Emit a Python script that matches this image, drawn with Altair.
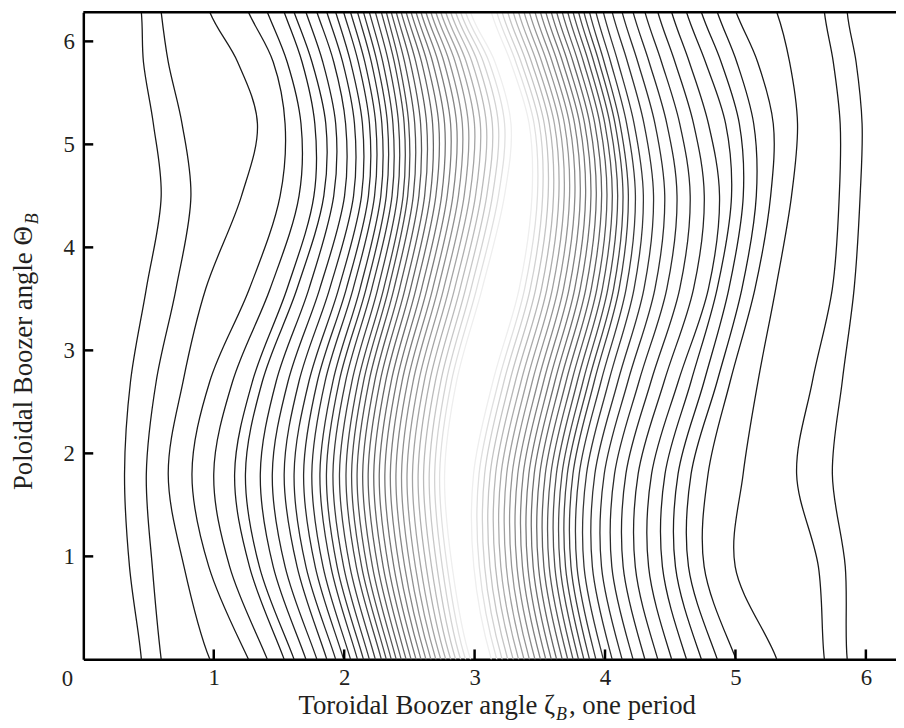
import altair as alt
import pandas as pd

TWO_PI = 6.2832
THETA_KNOTS = [0.0, 0.9, 1.8, 2.7, 3.6, 4.5, 5.2, 5.8]

# zeta of each contour at the theta knots, left family (outer -> inner)
LEFT_GROUP = [
    [0.445, 0.354, 0.316, 0.362, 0.483, 0.597, 0.537, 0.461],
    [0.597, 0.529, 0.483, 0.559, 0.711, 0.825, 0.757, 0.651],
    [0.970, 0.772, 0.651, 0.765, 0.939, 1.213, 1.335, 1.183],
    [1.266, 0.962, 0.833, 0.970, 1.274, 1.509, 1.547, 1.456],
    [1.411, 1.122, 1.000, 1.145, 1.433, 1.654, 1.669, 1.563],
    [1.540, 1.274, 1.160, 1.297, 1.563, 1.768, 1.775, 1.677],
    [1.616, 1.350, 1.243, 1.373, 1.639, 1.844, 1.859, 1.753],
    [1.707, 1.456, 1.357, 1.479, 1.730, 1.920, 1.935, 1.836],
    [1.791, 1.547, 1.449, 1.570, 1.813, 2.003, 2.011, 1.920],
    [1.867, 1.639, 1.540, 1.654, 1.889, 2.072, 2.079, 1.988],
    [1.935, 1.707, 1.616, 1.730, 1.958, 2.133, 2.140, 2.049],
    [1.996, 1.778, 1.689, 1.795, 2.017, 2.186, 2.194, 2.108],
    [2.049, 1.838, 1.752, 1.854, 2.069, 2.233, 2.242, 2.158],
    [2.102, 1.898, 1.814, 1.914, 2.122, 2.281, 2.289, 2.208],
    [2.148, 1.946, 1.864, 1.962, 2.168, 2.323, 2.332, 2.252],
    [2.193, 1.996, 1.914, 2.011, 2.212, 2.367, 2.374, 2.296],
    [2.239, 2.044, 1.964, 2.060, 2.258, 2.409, 2.417, 2.340],
    [2.285, 2.093, 2.014, 2.107, 2.303, 2.452, 2.460, 2.384],
    [2.323, 2.134, 2.057, 2.149, 2.341, 2.487, 2.495, 2.420],
    [2.361, 2.175, 2.099, 2.191, 2.382, 2.530, 2.541, 2.463],
    [2.399, 2.217, 2.142, 2.234, 2.425, 2.573, 2.586, 2.506],
    [2.437, 2.258, 2.184, 2.276, 2.467, 2.617, 2.632, 2.549],
    [2.475, 2.299, 2.227, 2.318, 2.509, 2.660, 2.678, 2.593],
    [2.513, 2.340, 2.269, 2.361, 2.551, 2.703, 2.725, 2.635],
    [2.551, 2.381, 2.312, 2.403, 2.594, 2.747, 2.770, 2.678],
    [2.589, 2.423, 2.354, 2.444, 2.636, 2.790, 2.816, 2.721],
    [2.627, 2.464, 2.397, 2.487, 2.679, 2.834, 2.862, 2.765],
    [2.665, 2.505, 2.440, 2.529, 2.720, 2.876, 2.906, 2.807],
    [2.703, 2.546, 2.482, 2.572, 2.763, 2.920, 2.952, 2.851],
    [2.741, 2.587, 2.524, 2.614, 2.804, 2.963, 2.999, 2.894],
    [2.779, 2.629, 2.567, 2.656, 2.847, 3.007, 3.044, 2.936],
    [2.817, 2.670, 2.609, 2.699, 2.889, 3.050, 3.090, 2.980],
    [2.855, 2.711, 2.652, 2.741, 2.931, 3.093, 3.136, 3.023],
    [2.893, 2.752, 2.694, 2.783, 2.973, 3.137, 3.182, 3.067],
    [2.931, 2.790, 2.732, 2.823, 3.016, 3.183, 3.230, 3.111],
    [2.969, 2.828, 2.770, 2.862, 3.058, 3.229, 3.279, 3.156],
]

# right family (inner -> outer)
RIGHT_GROUP = [
    [3.128, 2.994, 2.992, 3.141, 3.342, 3.440, 3.418, 3.276],
    [3.170, 3.036, 3.034, 3.184, 3.384, 3.482, 3.456, 3.316],
    [3.211, 3.077, 3.077, 3.226, 3.427, 3.522, 3.496, 3.356],
    [3.254, 3.118, 3.119, 3.270, 3.469, 3.564, 3.534, 3.396],
    [3.296, 3.160, 3.161, 3.313, 3.513, 3.605, 3.573, 3.436],
    [3.337, 3.201, 3.203, 3.357, 3.555, 3.646, 3.612, 3.475],
    [3.379, 3.243, 3.246, 3.400, 3.597, 3.687, 3.650, 3.515],
    [3.420, 3.284, 3.288, 3.443, 3.640, 3.728, 3.689, 3.555],
    [3.463, 3.325, 3.331, 3.487, 3.682, 3.769, 3.728, 3.595],
    [3.505, 3.367, 3.373, 3.530, 3.725, 3.810, 3.767, 3.635],
    [3.546, 3.408, 3.416, 3.573, 3.768, 3.851, 3.806, 3.675],
    [3.588, 3.449, 3.457, 3.616, 3.810, 3.892, 3.844, 3.714],
    [3.629, 3.490, 3.500, 3.658, 3.853, 3.933, 3.883, 3.755],
    [3.672, 3.531, 3.542, 3.702, 3.895, 3.974, 3.922, 3.794],
    [3.714, 3.572, 3.585, 3.745, 3.938, 4.015, 3.961, 3.835],
    [3.755, 3.615, 3.627, 3.788, 3.980, 4.056, 3.999, 3.874],
    [3.797, 3.656, 3.670, 3.832, 4.022, 4.097, 4.038, 3.914],
    [3.838, 3.697, 3.711, 3.875, 4.066, 4.138, 4.077, 3.954],
    [3.881, 3.739, 3.754, 3.918, 4.108, 4.179, 4.115, 3.993],
    [3.930, 3.785, 3.802, 3.970, 4.162, 4.233, 4.166, 4.043],
    [3.987, 3.839, 3.858, 4.029, 4.223, 4.294, 4.223, 4.099],
    [4.055, 3.903, 3.922, 4.099, 4.299, 4.372, 4.299, 4.172],
    [4.131, 3.973, 3.994, 4.176, 4.383, 4.458, 4.383, 4.251],
    [4.215, 4.052, 4.073, 4.261, 4.474, 4.552, 4.474, 4.338],
    [4.306, 4.139, 4.160, 4.353, 4.573, 4.653, 4.573, 4.433],
    [4.405, 4.232, 4.254, 4.454, 4.679, 4.761, 4.679, 4.536],
    [4.511, 4.334, 4.357, 4.562, 4.793, 4.878, 4.793, 4.646],
    [4.625, 4.440, 4.460, 4.660, 4.860, 4.970, 4.925, 4.770],
    [4.739, 4.540, 4.560, 4.760, 4.950, 5.060, 5.030, 4.890],
    [4.861, 4.640, 4.660, 4.860, 5.050, 5.160, 5.140, 5.010],
    [5.005, 4.760, 4.790, 4.960, 5.150, 5.270, 5.290, 5.170],
    [5.317, 4.998, 5.059, 5.173, 5.309, 5.430, 5.476, 5.415],
    [5.682, 5.636, 5.469, 5.590, 5.743, 5.796, 5.803, 5.750],
    [5.857, 5.842, 5.743, 5.819, 5.910, 5.956, 5.971, 5.925],
]

TICK_VALUES = [1, 2, 3, 4, 5, 6]
X_DOMAIN = [0, 6.231]
Y_DOMAIN = [0, TWO_PI]

rows = []


def add_line(name, zetas, shade):
    pts = [(THETA_KNOTS[-1] - TWO_PI, zetas[-1])]
    pts += list(zip(THETA_KNOTS, zetas))
    pts += [(TWO_PI, zetas[0]), (TWO_PI + THETA_KNOTS[1], zetas[1])]
    for i, (t, z) in enumerate(pts):
        rows.append({"line": name, "ord": i, "theta": t, "zeta": z, "shade": shade})


nL = len(LEFT_GROUP)
for i, z in enumerate(LEFT_GROUP):
    add_line(f"L{i:02d}", z, i / (nL - 1))
nR = len(RIGHT_GROUP)
for j, z in enumerate(RIGHT_GROUP):
    add_line(f"R{j:02d}", z, 1 - j / (nR - 1))

df = pd.DataFrame(rows)

W, H = 820, 653
FONT = "Liberation Serif"
INK = "#231f20"

xscale = alt.Scale(domain=X_DOMAIN, nice=False, zero=False)
yscale = alt.Scale(domain=Y_DOMAIN, nice=False, zero=False)

lines = alt.Chart(df).mark_line(
    interpolate="catmull-rom", strokeWidth=1.3, clip=True
).encode(
    x=alt.X("zeta:Q", scale=xscale, axis=alt.Axis(
        values=TICK_VALUES, format="d", ticks=False, grid=False, title=None,
        labelFont=FONT, labelFontSize=23, labelColor=INK, labelPadding=7,
        domainColor="black", domainWidth=2.5)),
    y=alt.Y("theta:Q", scale=yscale, axis=alt.Axis(
        values=TICK_VALUES, format="d", ticks=False, grid=False, title=None,
        labelFont=FONT, labelFontSize=23, labelColor=INK, labelPadding=9,
        domainColor="black", domainWidth=2.5)),
    detail="line:N",
    order="ord:Q",
    color=alt.Color("shade:Q", legend=None,
                    scale=alt.Scale(type="pow", exponent=2, domain=[0, 1],
                                    range=["#1a1a1a", "#eeeeee"])),
)

ticks_df = pd.DataFrame({"v": TICK_VALUES})
xticks = alt.Chart(ticks_df).mark_rule(color="black", strokeWidth=2.5).encode(
    x=alt.X("v:Q", scale=xscale), y=alt.value(H), y2=alt.value(H - 10))
yticks = alt.Chart(ticks_df).mark_rule(color="black", strokeWidth=2.5).encode(
    y=alt.Y("v:Q", scale=yscale), x=alt.value(0), x2=alt.value(10))

top = alt.Chart(pd.DataFrame({"y": [TWO_PI]})).mark_rule(
    color="black", strokeWidth=2.5).encode(
    y=alt.Y("y:Q", scale=yscale), x=alt.value(0), x2=alt.value(W))


def label(text, x, y, size=27, align="left", angle=0, italic=False):
    return alt.Chart(pd.DataFrame({"t": [text]})).mark_text(
        font=FONT, fontSize=size, color=INK, align=align, baseline="alphabetic",
        angle=angle, fontStyle="italic" if italic else "normal").encode(
        text="t:N", x=alt.value(x), y=alt.value(y))


zero = label("0", -16, 680, size=23, align="center")
xt1 = label("Toroidal Boozer angle \u03b6", 476, 708, align="right")
xt2 = label("B", 477, 714, size=18, italic=True)
xt3 = label(", one period", 490, 708)
yt1 = label("Poloidal Boozer angle \u0398", -52, 216, align="right", angle=270)
yt2 = label("B", -46, 214, size=18, italic=True, angle=270)

chart = alt.layer(lines, xticks, yticks, top, zero, xt1, xt2, xt3, yt1, yt2).properties(
    width=W, height=H,
    padding={"left": 76, "top": 1, "right": 0, "bottom": 64},
    autosize=alt.AutoSizeParams(type="none"),
).configure_view(stroke=None).configure_axis(labelFont=FONT)

chart.save("out.html", embed_options={"renderer": "svg", "actions": False})
